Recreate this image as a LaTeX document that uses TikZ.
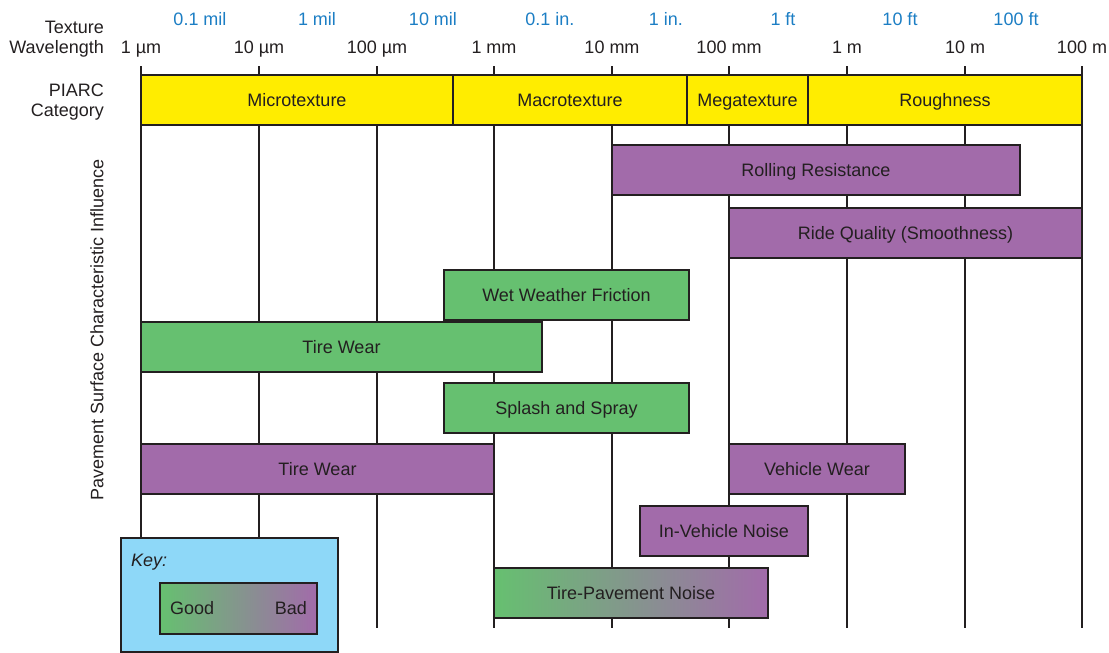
\documentclass[tikz,border=0pt]{standalone}
\usepackage{fontspec}
\setmainfont{Liberation Sans}
\definecolor{ink}{RGB}{35,31,32}
\definecolor{yel}{RGB}{255,237,0}
\definecolor{grn}{RGB}{102,192,112}
\definecolor{pur}{RGB}{162,107,170}
\definecolor{mid}{RGB}{140,148,152}
\definecolor{keyblue}{RGB}{142,216,248}
\definecolor{blu}{RGB}{28,126,196}
\tikzset{
  lbl/.style={font=\fontsize{18}{21}\selectfont, text=ink, inner sep=0pt},
  ulbl/.style={lbl, text=blu},
  bar/.style={draw=ink, line width=2.5pt, outer sep=0pt, anchor=north west, minimum height=50pt, inner sep=0pt, text height=13pt, text depth=0pt, font=\fontsize{18}{21}\selectfont, text=ink},
  good/.style={bar, fill=grn},
  bad/.style={bar, fill=pur},
  mixed/.style={bar, left color=grn, middle color=mid, right color=pur},
  cat/.style={bar, fill=yel},
  grid/.style={draw=ink, line width=2.5pt},
}
\begin{document}
\begin{tikzpicture}[x=1pt,y=-1pt]
\useasboundingbox (0,0) rectangle (1109,653);
% grid lines
\foreach \x/\n in {141/a,259/b,377/c,494/d,612/e,729/f,847/g,965/h,1082/i}{
  \coordinate (t\n) at (\x,66);
  \coordinate (b\n) at (\x,628);
  \draw[grid] (t\n) -- (b\n);
}
% axis labels
\node[lbl, anchor=east, align=right] (tw) at (104,39) {Texture\\[-0.5pt]Wavelength};
\node[lbl, anchor=east, align=right] (pc) at (104,102) {PIARC\\[-0.5pt]Category};
\node[lbl, rotate=90] (psc) at (97,330) {Pavement Surface Characteristic Influence};
\foreach \x/\t/\n in {141/1 µm/a,259/10 µm/b,377/100 µm/c,494/1 mm/d,612/10 mm/e,729/100 mm/f,847/1 m/g,965/10 m/h,1082/100 m/i}{
  \node[lbl, text height=13pt, text depth=4pt] (m\n) at (\x,49) {\t};
}
\foreach \x/\t/\n in {200/0.1 mil/a,317/1 mil/b,433/10 mil/c,550/0.1 in./d,666/1 in./e,783/1 ft/f,900/10 ft/g,1016/100 ft/h}{
  \node[ulbl] (u\n) at (\x,19) {\t};
}
% PIARC categories
\node[cat, minimum width=312pt] (micro) at (141,75) {Microtexture};
\node[cat, minimum width=234pt] (macro) at (453,75) {Macrotexture};
\node[cat, minimum width=121pt] (mega) at (687,75) {Megatexture};
\node[cat, minimum width=274pt] (rough) at (808,75) {Roughness};
% influences
\node[bad, minimum width=408pt] (rr) at (612,145) {Rolling Resistance};
\node[bad, minimum width=353pt] (rq) at (729,208) {Ride Quality (Smoothness)};
\node[good, minimum width=245pt] (wwf) at (444,270) {Wet Weather Friction};
\node[good, minimum width=401pt] (tw1) at (141,322) {Tire Wear};
\node[good, minimum width=245pt] (ss) at (444,383) {Splash and Spray};
\node[bad, minimum width=353pt] (tw2) at (141,444) {Tire Wear};
\node[bad, minimum width=176pt] (vw) at (729,444) {Vehicle Wear};
\node[bad, minimum width=168pt] (ivn) at (640,506) {In-Vehicle Noise};
\node[mixed, minimum width=274pt] (tpn) at (494,568) {Tire-Pavement Noise};
% key
\node[draw=ink, line width=2.5pt, outer sep=0pt, fill=keyblue, anchor=north west, minimum width=217pt, minimum height=114pt] (key) at (121,538) {};
\node[lbl, anchor=west, font=\fontsize{18}{21}\selectfont\itshape] (keyt) at (131,562) {Key:};
\node[bar, left color=grn, middle color=mid, right color=pur, minimum width=157pt, minimum height=51pt] (kg) at (160,583) {};
\node[lbl, anchor=west] (goodl) at (170,608) {Good};
\node[lbl, anchor=east] (badl) at (307,608) {Bad};
\end{tikzpicture}
\end{document}
